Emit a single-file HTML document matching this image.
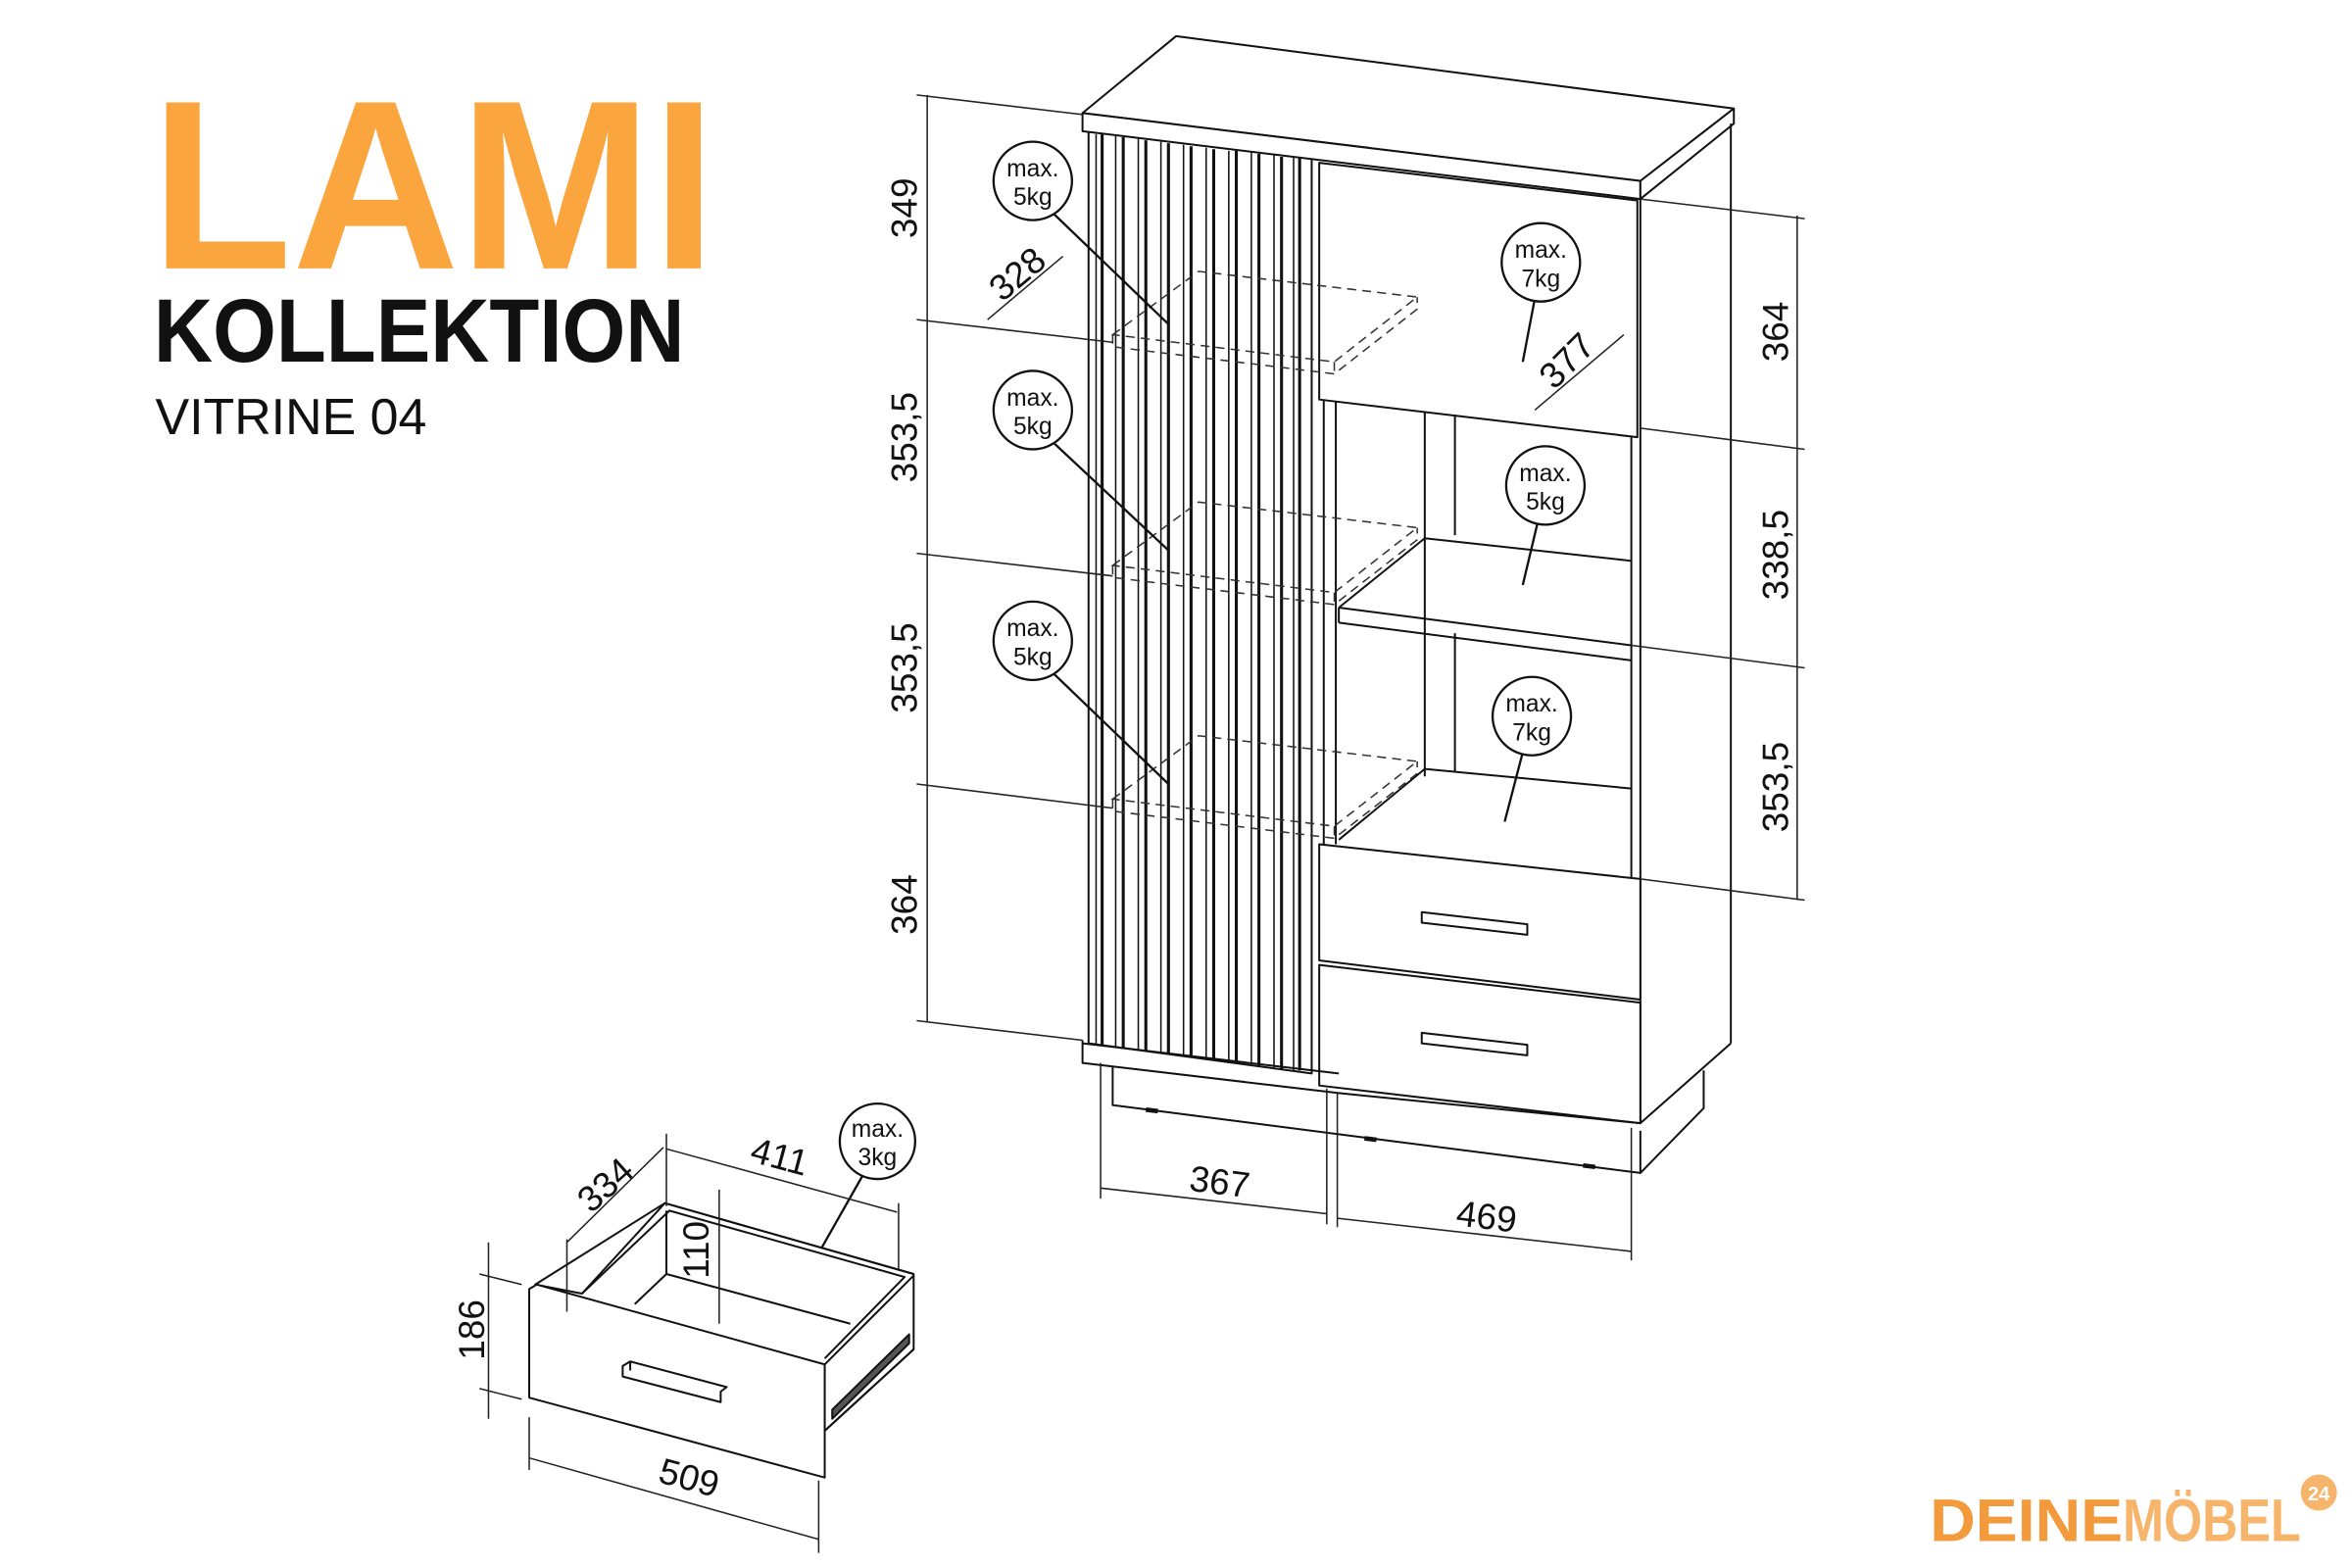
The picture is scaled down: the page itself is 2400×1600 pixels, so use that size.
<!DOCTYPE html>
<html><head><meta charset="utf-8"><style>
html,body{margin:0;padding:0;background:#fff;}
svg{display:block}
</style></head><body>
<svg width="2400" height="1600" viewBox="0 0 1560 1040" xmlns="http://www.w3.org/2000/svg" font-family="Liberation Sans, sans-serif">
<rect width="1560" height="1040" fill="#fff"/>
<!-- Title -->
<text x="100" y="178" font-size="160" font-weight="bold" fill="#FBA53E" textLength="375" lengthAdjust="spacingAndGlyphs">LAMI</text>
<text x="102" y="240" font-size="60" font-weight="bold" fill="#111" textLength="352" lengthAdjust="spacingAndGlyphs">KOLLEKTION</text>
<text x="103" y="288" font-size="34" fill="#111" textLength="180" lengthAdjust="spacingAndGlyphs">VITRINE 04</text>

<g stroke="#111" stroke-width="1.3" fill="none" stroke-linejoin="round">
<!-- Top slab -->
<polygon points="718,75 780,24 1150,72 1088,120" fill="#fff"/>
<polygon points="718,75 1088,120 1088,132 718,87" fill="#fff"/>
<polygon points="1088,120 1150,72 1150,82 1088,132" fill="#fff"/>
<!-- right side -->
<line x1="1148" y1="82" x2="1148" y2="692"/>
<line x1="1088" y1="132" x2="1088" y2="745"/>
<line x1="1082" y1="290" x2="1082" y2="583"/>
<!-- slat panel -->
<polyline points="722,88 722,692 870,712 870,106"/>
<g stroke-width="1">
<line x1="727" y1="89" x2="727" y2="693"/><line x1="731" y1="89" x2="731" y2="693" stroke-width="2"/>
<line x1="740" y1="90" x2="740" y2="694"/><line x1="745" y1="91" x2="745" y2="695" stroke-width="2"/>
<line x1="755" y1="92" x2="755" y2="696"/><line x1="760" y1="93" x2="760" y2="697" stroke-width="2"/>
<line x1="770" y1="94" x2="770" y2="698"/><line x1="775" y1="95" x2="775" y2="699" stroke-width="2"/>
<line x1="785" y1="96" x2="785" y2="700"/><line x1="790" y1="97" x2="790" y2="701" stroke-width="2"/>
<line x1="800" y1="98" x2="800" y2="702"/><line x1="805" y1="99" x2="805" y2="703" stroke-width="2"/>
<line x1="815" y1="100" x2="815" y2="704"/><line x1="820" y1="100" x2="820" y2="705" stroke-width="2"/>
<line x1="830" y1="101" x2="830" y2="706"/><line x1="835" y1="102" x2="835" y2="707" stroke-width="2"/>
<line x1="845" y1="103" x2="845" y2="708"/><line x1="850" y1="104" x2="850" y2="709" stroke-width="2"/>
<line x1="858" y1="104" x2="858" y2="710"/><line x1="862" y1="105" x2="862" y2="710" stroke-width="2"/>
</g>
<!-- upper door -->
<polygon points="875,108 1086,133 1086,290 875,265" fill="#fff"/>
<!-- middle compartment -->
<line x1="878" y1="265" x2="878" y2="560"/><line x1="886" y1="266" x2="886" y2="560"/>
<line x1="945" y1="273" x2="945" y2="515"/><line x1="965" y1="275" x2="965" y2="355"/>
<line x1="965" y1="420" x2="965" y2="512"/>
<polyline points="888,403 945,357 1082,372"/>
<line x1="888" y1="403" x2="1082" y2="428"/>
<line x1="888" y1="413" x2="1082" y2="438"/>
<line x1="888" y1="403" x2="888" y2="413"/>
<polyline points="888,557 945,510 1082,523"/>
<!-- drawers -->
<polygon points="875,560 1088,583 1088,663 875,637" fill="#fff"/>
<polygon points="875,640 1088,665 1088,745 875,720" fill="#fff"/>
<polygon points="943,605 1013,613 1013,620 943,612" fill="#fff"/>
<polygon points="943,685 1013,693 1013,700 943,692" fill="#fff"/>
<!-- base -->
<polyline points="718,690 718,705 888,725 1088,745 1148,692"/>
<line x1="718" y1="692" x2="888" y2="712"/>
<polyline points="738,707 738,733 1088,778 1130,735 1130,710"/>
<line x1="1088" y1="750" x2="1088" y2="778"/>
<line x1="760" y1="736" x2="768" y2="737" stroke-width="3"/>
<line x1="905" y1="755" x2="913" y2="756" stroke-width="3"/>
<line x1="1050" y1="773" x2="1058" y2="774" stroke-width="3"/>
</g>

<!-- dashed shelves -->
<g stroke="#333" stroke-width="1" fill="none" stroke-dasharray="6,4">
<polygon points="738,222 795,180 940,197 885,240"/>
<polyline points="738,222 738,230 885,248 940,205 940,197"/><line x1="885" y1="240" x2="885" y2="248"/>
<polygon points="738,375 795,333 940,350 885,393"/>
<polyline points="738,375 738,383 885,401 940,358 940,350"/><line x1="885" y1="393" x2="885" y2="401"/>
<polygon points="738,530 795,488 940,505 885,548"/>
<polyline points="738,530 738,538 885,556 940,513 940,505"/><line x1="885" y1="548" x2="885" y2="556"/>
</g>

<!-- dimensions -->
<g stroke="#222" stroke-width="1" fill="none">
<line x1="615" y1="63" x2="615" y2="678"/>
<line x1="608" y1="63" x2="718" y2="76"/>
<line x1="608" y1="212" x2="738" y2="227"/>
<line x1="608" y1="367" x2="738" y2="382"/>
<line x1="608" y1="520" x2="738" y2="536"/>
<line x1="608" y1="677" x2="718" y2="690"/>
<line x1="1192" y1="143" x2="1192" y2="597"/>
<line x1="1088" y1="132" x2="1197" y2="145"/>
<line x1="1088" y1="284" x2="1197" y2="298"/>
<line x1="1082" y1="428" x2="1197" y2="443"/>
<line x1="1088" y1="583" x2="1197" y2="597"/>
<line x1="655" y1="212" x2="705" y2="170"/>
<line x1="1018" y1="272" x2="1077" y2="222"/>
<line x1="730" y1="705" x2="730" y2="795"/>
<line x1="880" y1="722" x2="880" y2="812"/>
<line x1="887" y1="725" x2="887" y2="814"/>
<line x1="1082" y1="748" x2="1082" y2="836"/>
<line x1="730" y1="788" x2="880" y2="805"/>
<line x1="887" y1="808" x2="1082" y2="830"/>
</g>
<g font-size="24" fill="#111" text-anchor="middle">
<text transform="translate(608,138) rotate(-90)">349</text>
<text transform="translate(608,290) rotate(-90)">353,5</text>
<text transform="translate(608,443) rotate(-90)">353,5</text>
<text transform="translate(608,600) rotate(-90)">364</text>
<text transform="translate(1186,220) rotate(-90)">364</text>
<text transform="translate(1186,368) rotate(-90)">338,5</text>
<text transform="translate(1186,522) rotate(-90)">353,5</text>
<text transform="translate(680,188) rotate(-40)">328</text>
<text transform="translate(1045,245) rotate(-45)">377</text>
<text transform="translate(808,792) rotate(7)">367</text>
<text transform="translate(985,815) rotate(7)">469</text>
</g>

<!-- load circles -->
<g stroke="#111" stroke-width="1.5" fill="#fff">
<line x1="697" y1="140" x2="775" y2="215"/>
<line x1="697" y1="292" x2="775" y2="365"/>
<line x1="697" y1="445" x2="775" y2="520"/>
<line x1="1018" y1="198" x2="1010" y2="240"/>
<line x1="1020" y1="346" x2="1010" y2="388"/>
<line x1="1010" y1="499" x2="998" y2="545"/>
<line x1="572" y1="780" x2="513" y2="884"/>
<circle cx="685" cy="120" r="26"/>
<circle cx="685" cy="272" r="26"/>
<circle cx="685" cy="425" r="26"/>
<circle cx="1022" cy="174" r="26"/>
<circle cx="1025" cy="322" r="26"/>
<circle cx="1016" cy="475" r="26"/>
<circle cx="582" cy="757" r="25"/>
</g>
<g font-size="16" fill="#111" text-anchor="middle">
<text x="685" y="117">max.</text><text x="685" y="136">5kg</text>
<text x="685" y="269">max.</text><text x="685" y="288">5kg</text>
<text x="685" y="422">max.</text><text x="685" y="441">5kg</text>
<text x="1022" y="171">max.</text><text x="1022" y="190">7kg</text>
<text x="1025" y="319">max.</text><text x="1025" y="338">5kg</text>
<text x="1016" y="472">max.</text><text x="1016" y="491">7kg</text>
<text x="582" y="754">max.</text><text x="582" y="773">3kg</text>
</g>

<!-- drawer detail -->
<g stroke="#111" stroke-width="1.3" fill="none" stroke-linejoin="round">
<polygon points="441,798 606,845 606,895 547,949 547,905 355,852 386,858" fill="#fff"/>
<polyline points="355,852 441,798 606,845"/>
<polyline points="386,858 444,803 600,847 547,901"/>
<polyline points="421,865 442,845 564,878"/>
<line x1="442" y1="803" x2="442" y2="845"/>
<polygon points="351,855 356,852 547,905 547,980 351,927" fill="#fff"/>
<line x1="547" y1="905" x2="606" y2="846"/>
<line x1="547" y1="949" x2="606" y2="895"/>
<polygon points="413,906 418,903 482,920 478,923 478,930 413,913" fill="#fff"/>
<line x1="418" y1="903" x2="418" y2="909"/>
<path d="M552 935 L603 885 L603 891 L552 941 Z" fill="#555"/>
</g>
<g stroke="#222" stroke-width="1" fill="none">
<line x1="324" y1="824" x2="324" y2="941"/>
<line x1="318" y1="845" x2="346" y2="852"/>
<line x1="318" y1="921" x2="346" y2="928"/>
<line x1="477" y1="789" x2="477" y2="878"/>
<line x1="376" y1="824" x2="440" y2="761"/>
<line x1="376" y1="822" x2="376" y2="870"/>
<line x1="442" y1="752" x2="442" y2="800"/>
<line x1="442" y1="762" x2="595" y2="804"/>
<line x1="596" y1="798" x2="596" y2="842"/>
<line x1="351" y1="967" x2="543" y2="1021"/>
<line x1="351" y1="940" x2="351" y2="975"/>
<line x1="543" y1="982" x2="543" y2="1030"/>
</g>
<g font-size="24" fill="#111" text-anchor="middle">
<text transform="translate(321,882) rotate(-90)">186</text>
<text transform="translate(470,829) rotate(-90)">110</text>
<text transform="translate(407,792) rotate(-42)">334</text>
<text transform="translate(515,775) rotate(15)">411</text>
<text transform="translate(455,988) rotate(15)">509</text>
</g>

<!-- logo -->
<text x="1280" y="1022" font-size="40" font-weight="bold" fill="#F39A3C" textLength="128" lengthAdjust="spacingAndGlyphs">DEINE</text>
<text x="1408" y="1022" font-size="40" font-weight="bold" fill="#F7B56C" textLength="118" lengthAdjust="spacingAndGlyphs">MÖBEL</text>
<circle cx="1538" cy="990" r="12" fill="#F7B56C"/>
<text x="1538" y="995" font-size="13" font-weight="bold" fill="#fff" text-anchor="middle">24</text>
</svg>
</body></html>
